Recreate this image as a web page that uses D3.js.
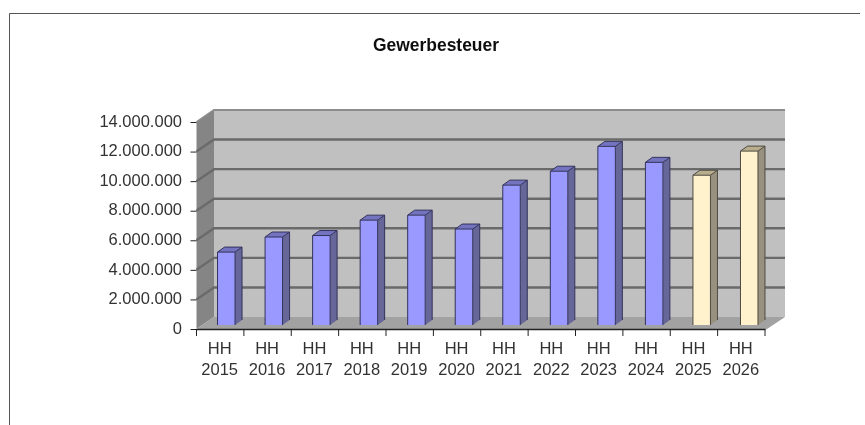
<!DOCTYPE html>
<html>
<head>
<meta charset="utf-8">
<script src="https://cdn.jsdelivr.net/npm/d3@7"></script>
<style>
    html, body { margin: 0; padding: 0; background: #fff; }
    text { font-family: "Liberation Sans", Arial, sans-serif; fill: #333; }
</style>
</head>
<body>
<svg id="chart" width="865" height="425"></svg>
<script>
const years = ["2015", "2016", "2017", "2018", "2019", "2020", "2021", "2022", "2023", "2024", "2025", "2026"];
const values = [4930000, 5950000, 6050000, 7090000, 7430000, 6490000, 9460000, 10400000, 12080000, 11000000, 10130000, 11760000];
const planned = ["2025", "2026"];
const yTicks = [0, 2000000, 4000000, 6000000, 8000000, 10000000, 12000000, 14000000];

const plot = { left: 196.5, right: 765, top: 122, bottom: 329 };
const wall = { dx: 17.5, dy: 12, rightDx: 20 };   // how far the back wall sits behind the axis plane
const barOffset = { dx: 6, dy: 4 }; // bars stand a little behind the axis plane
const barDepth = { dx: 7, dy: 5 };
const barWidth = 17.5;

const xScale = d3.scaleBand().domain(years).range([plot.left, plot.right]);
// The bars run on a slightly wider spacing than the axis ticks
const barScale = d3.scaleBand().domain(years).range([plot.left, plot.right + 2]);
const yScale = d3.scaleLinear().domain([0, 14000000]).range([plot.bottom, plot.top]);
const de = d3.formatLocale({ decimal: ",", thousands: ".", grouping: [3], currency: ["", ""] });

const svg = d3.select("#chart");
const defs = svg.append("defs");
defs.append("filter").attr("id", "soft").append("feGaussianBlur").attr("stdDeviation", 0.6);
defs.append("filter").attr("id", "softText").append("feGaussianBlur").attr("stdDeviation", 0.25);

// Frame, cropped at the bottom and right of the picture
svg.append("path")
    .attr("d", "M9.5,425V13.5H860")
    .attr("fill", "none")
    .attr("stroke", "#555")
    .attr("stroke-width", 1);

svg.append("text")
    .attr("x", 436)
    .attr("y", 51)
    .attr("text-anchor", "middle")
    .attr("filter", "url(#softText)")
    .style("font-size", "18.5px")
    .style("font-weight", "bold")
    .attr("textLength", 126)
    .attr("lengthAdjust", "spacingAndGlyphs")
    .style("fill", "#111")
    .text("Gewerbesteuer");

const g = svg.append("g").attr("filter", "url(#soft)");

const line = d3.line();
function poly(points, fill, stroke) {
    return g.append("path")
        .attr("d", line(points) + "Z")
        .attr("fill", fill)
        .attr("stroke", stroke || "none");
}

const backRight = plot.right + wall.rightDx;

// Walls and floor
poly([[plot.left + wall.dx, plot.top - wall.dy], [backRight, plot.top - wall.dy],
      [backRight, plot.bottom - wall.dy], [plot.left + wall.dx, plot.bottom - wall.dy]], "#c0c0c0");
poly([[plot.left, plot.top], [plot.left + wall.dx, plot.top - wall.dy],
      [plot.left + wall.dx, plot.bottom - wall.dy], [plot.left, plot.bottom]], "#858585");
poly([[plot.left, plot.bottom], [plot.left + wall.dx, plot.bottom - wall.dy],
      [backRight, plot.bottom - wall.dy], [plot.right + 2, plot.bottom]], "#a2a2a2");

// Gridlines on the side wall and the back wall, the top one is lighter
yTicks.filter(d => d > 0).forEach(d => {
    g.append("path")
        .attr("d", line([[plot.left, yScale(d)], [plot.left + wall.dx, yScale(d) - wall.dy], [backRight, yScale(d) - wall.dy]]))
        .attr("fill", "none")
        .attr("stroke", d === 14000000 ? "#8c8c8c" : "#6a6a6a")
        .attr("stroke-width", d === 14000000 ? 1.8 : 2.4);
});

// Bars: front, side and top faces
years.forEach((year, i) => {
    const isPlanned = planned.includes(year);
    const front = isPlanned ? "#fff2cc" : "#9999ff";
    const side = isPlanned ? "#999180" : "#666699";
    const top = isPlanned ? "#b8ad8c" : "#7373bf";
    const edge = isPlanned ? "#4d4a40" : "#33335c";

    const x0 = barScale(year) + (barScale.bandwidth() - barWidth) / 2 + barOffset.dx;
    const x1 = x0 + barWidth;
    const y0 = yScale(0) - barOffset.dy;
    const y1 = yScale(values[i]) - barOffset.dy;

    poly([[x1, y1], [x1 + barDepth.dx, y1 - barDepth.dy], [x1 + barDepth.dx, y0 - barDepth.dy], [x1, y0]], side);
    poly([[x0, y1], [x0 + barDepth.dx, y1 - barDepth.dy], [x1 + barDepth.dx, y1 - barDepth.dy], [x1, y1]], top);
    poly([[x0, y1], [x1, y1], [x1, y0], [x0, y0]], front);
    // Outline without the bottom edge
    g.append("path")
        .attr("d", line([[x0, y0], [x0, y1], [x0 + barDepth.dx, y1 - barDepth.dy], [x1 + barDepth.dx, y1 - barDepth.dy], [x1 + barDepth.dx, y0 - barDepth.dy]]))
        .attr("fill", "none")
        .attr("stroke", edge);
    g.append("path")
        .attr("d", line([[x0, y1], [x1, y1], [x1 + barDepth.dx, y1 - barDepth.dy]]))
        .attr("fill", "none")
        .attr("stroke", edge);
    g.append("path")
        .attr("d", line([[x1, y1], [x1, y0]]))
        .attr("fill", "none")
        .attr("stroke", edge);
});

// Axes
const xAxis = svg.append("g")
    .attr("transform", `translate(0, ${plot.bottom})`)
    .call(d3.axisBottom(xScale).tickSize(0).tickFormat(""));
xAxis.select(".domain").attr("stroke", "#222").attr("stroke-width", 1.5);
years.concat("end").forEach((d, i) => {
    const x = plot.left + i * xScale.step();
    xAxis.append("line").attr("x1", x).attr("x2", x).attr("y1", 0).attr("y2", 7).attr("stroke", "#222");
});

const labels = svg.append("g").attr("filter", "url(#softText)").selectAll("text").data(years).join("text")
    .attr("text-anchor", "middle")
    .style("font-size", "16.5px")
    .attr("transform", d => `translate(${xScale(d) + xScale.bandwidth() / 2 - 0.5}, 354)`);
labels.append("tspan").attr("x", 0).attr("y", 0).text("HH");
labels.append("tspan").attr("x", 0).attr("y", 21).text(d => d);

const yAxis = svg.append("g")
    .attr("transform", `translate(${plot.left}, 0)`)
    .call(d3.axisLeft(yScale).tickValues(yTicks).tickSize(6).tickPadding(8).tickFormat(de.format(",d")));
yAxis.select(".domain").remove();
yAxis.selectAll("line").attr("stroke", "#222");
yAxis.selectAll("text")
    .attr("filter", "url(#softText)")
    .attr("y", -1)
    .attr("dx", -0.5)
    .style("font-size", "16.5px");
yAxis.attr("font-family", null).attr("font-size", null);
xAxis.attr("font-family", null);
</script>
</body>
</html>
